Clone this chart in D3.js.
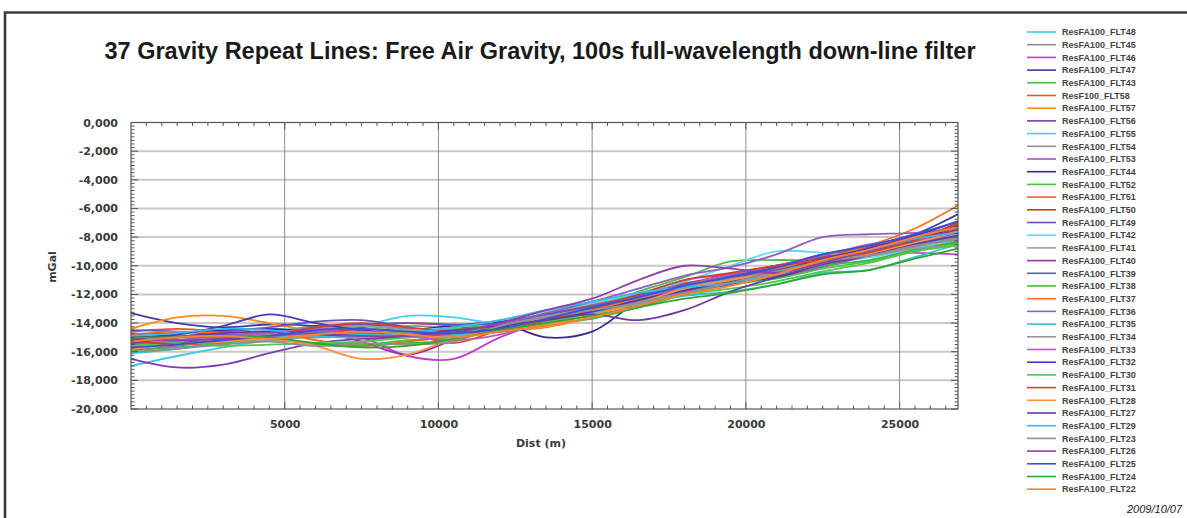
<!DOCTYPE html>
<html>
<head>
<meta charset="utf-8">
<script src="https://cdn.jsdelivr.net/npm/d3@7"></script>
<style>
  body { margin: 0; background: #fff; }
  svg { display: block; }
</style>
</head>
<body>
<div class="content"></div>
<script>
// distance along line (m) at which each repeat line was read
var distances = [0, 1500, 3000, 4500, 6000, 7500, 9000, 10500, 12000, 13500, 15000, 16500, 18000, 19500, 21000, 22500, 24000, 25500, 26900];

var lineNames = ['ResFA100_FLT48', 'ResFA100_FLT45', 'ResFA100_FLT46', 'ResFA100_FLT47', 'ResFA100_FLT43',
    'ResF100_FLT58', 'ResFA100_FLT57', 'ResFA100_FLT56', 'ResFA100_FLT55', 'ResFA100_FLT54', 'ResFA100_FLT53',
    'ResFA100_FLT44', 'ResFA100_FLT52', 'ResFA100_FLT51', 'ResFA100_FLT50', 'ResFA100_FLT49', 'ResFA100_FLT42',
    'ResFA100_FLT41', 'ResFA100_FLT40', 'ResFA100_FLT39', 'ResFA100_FLT38', 'ResFA100_FLT37', 'ResFA100_FLT36',
    'ResFA100_FLT35', 'ResFA100_FLT34', 'ResFA100_FLT33', 'ResFA100_FLT32', 'ResFA100_FLT30', 'ResFA100_FLT31',
    'ResFA100_FLT28', 'ResFA100_FLT27', 'ResFA100_FLT29', 'ResFA100_FLT23', 'ResFA100_FLT26', 'ResFA100_FLT25',
    'ResFA100_FLT24', 'ResFA100_FLT22'];

var lineColors = ['#3cc8e6', '#8c8c8c', '#c040c8', '#3c3ca8', '#50c050', '#f05020', '#ff8c1a', '#7a3fb0',
    '#40d0f0', '#909090', '#b050d0', '#3a2a90', '#48c048', '#f06030', '#c8401c', '#7050c0', '#60d8f8',
    '#a0a0a0', '#a030a0', '#5a5ac8', '#40b840', '#ff7020', '#9060c0', '#30c0d0', '#989898', '#b060c0',
    '#4040b8', '#50c850', '#d04030', '#ff9040', '#6a3aa0', '#38b8e8', '#909090', '#9040a8', '#4050d0',
    '#30a830', '#ff8030'];

// free air gravity residual (mGal) for each line, at the distances above
var flt48 = [-17.0, -16.3, -15.7, -15.2, -14.9, -14.4, -14.6, -14.9, -14.6, -13.9, -13.2, -12.5, -11.7, -11.3, -10.4, -9.9, -9.4, -8.6, -8.1];
var flt45 = [-15.6, -15.3, -15.0, -14.7, -14.2, -14.1, -14.4, -14.6, -14.3, -13.5, -12.8, -12.1, -11.4, -11.0, -10.6, -9.8, -9.1, -8.6, -8.0];
var flt46 = [-15.0, -15.4, -15.2, -14.9, -14.7, -15.0, -16.3, -16.5, -15.0, -13.9, -13.3, -12.6, -11.9, -11.2, -10.8, -10.1, -9.3, -8.9, -8.4];
var flt47 = [-13.3, -14.0, -14.3, -14.1, -14.2, -14.4, -14.5, -14.3, -13.9, -13.4, -12.9, -12.2, -11.3, -10.7, -10.0, -9.3, -8.6, -7.8, -6.4];
var flt43 = [-15.8, -15.5, -15.4, -15.2, -15.4, -15.5, -15.2, -15.0, -14.4, -13.8, -13.4, -12.9, -12.0, -11.3, -10.9, -10.2, -9.7, -9.0, -8.4];
var flt58 = [-14.6, -14.4, -14.6, -14.9, -15.5, -15.3, -14.8, -15.4, -14.5, -13.9, -12.9, -12.0, -11.2, -10.9, -10.2, -9.4, -8.9, -8.1, -7.1];
var flt57 = [-14.4, -13.6, -13.5, -14.0, -14.6, -14.9, -15.0, -14.9, -14.6, -14.3, -13.6, -12.7, -11.8, -11.1, -10.5, -9.7, -9.0, -8.2, -7.4];
var flt56 = [-16.5, -17.1, -16.9, -16.1, -15.4, -15.1, -15.0, -14.8, -14.5, -13.8, -13.3, -12.5, -11.6, -11.0, -10.4, -9.6, -9.0, -8.2, -7.6];
var flt55 = [-15.3, -15.0, -14.6, -14.4, -14.5, -14.2, -13.5, -13.6, -14.0, -13.3, -12.6, -12.0, -11.6, -11.1, -10.3, -9.5, -8.8, -8.3, -7.8];
var flt54 = [-15.0, -14.9, -14.8, -14.6, -14.3, -14.4, -14.2, -14.3, -14.1, -13.3, -12.7, -12.3, -11.7, -11.2, -10.5, -9.9, -9.2, -8.7, -8.2];
var flt53 = [-15.9, -15.6, -15.1, -14.8, -14.6, -14.5, -14.7, -14.6, -14.0, -13.4, -12.8, -12.1, -11.0, -10.6, -10.1, -9.4, -9.0, -9.1, -9.2];
var flt44 = [-14.8, -14.7, -14.5, -14.4, -14.6, -14.7, -14.5, -14.2, -14.0, -15.0, -14.6, -12.5, -11.5, -11.1, -10.8, -9.9, -9.1, -8.3, -7.2];
var flt52 = [-15.5, -15.3, -15.1, -15.0, -15.0, -14.7, -14.6, -14.4, -14.1, -13.6, -12.9, -11.8, -10.8, -9.7, -9.6, -9.6, -9.3, -8.9, -8.5];
var flt51 = [-15.4, -15.2, -14.8, -14.6, -15.2, -15.6, -15.3, -14.9, -14.4, -13.6, -12.7, -12.2, -11.5, -10.9, -10.2, -9.5, -8.9, -8.2, -7.6];
var flt50 = [-15.1, -14.9, -14.9, -15.0, -14.9, -14.3, -14.0, -14.2, -14.6, -14.0, -13.3, -12.4, -11.3, -10.6, -10.0, -9.4, -8.7, -8.0, -7.3];
var flt49 = [-15.2, -15.0, -14.6, -14.3, -13.9, -13.8, -14.3, -14.7, -14.3, -13.7, -13.0, -12.4, -11.8, -11.3, -10.7, -10.0, -9.3, -8.5, -7.9];
var flt42 = [-15.7, -15.4, -15.3, -15.0, -14.8, -14.6, -14.5, -14.3, -13.8, -13.2, -12.6, -11.9, -11.1, -10.0, -9.0, -9.1, -9.4, -8.8, -8.2];
var flt41 = [-14.9, -15.1, -15.3, -15.2, -14.9, -14.6, -14.8, -14.9, -14.2, -13.5, -13.1, -12.4, -11.5, -10.8, -10.3, -9.8, -9.0, -8.4, -7.8];
var flt40 = [-15.3, -15.4, -15.0, -14.7, -14.6, -15.3, -16.2, -15.2, -14.4, -13.7, -12.9, -12.3, -11.6, -10.9, -10.1, -9.2, -8.7, -8.1, -7.5];
var flt39 = [-14.5, -14.6, -14.8, -14.9, -14.3, -14.1, -14.0, -14.1, -14.0, -13.4, -12.8, -12.1, -11.3, -10.7, -10.3, -9.6, -9.0, -8.3, -7.7];
var flt38 = [-15.9, -15.7, -15.4, -15.0, -15.5, -15.6, -15.4, -15.2, -14.3, -14.0, -13.7, -12.9, -12.0, -11.2, -10.6, -10.0, -9.6, -8.9, -8.3];
var flt37 = [-14.8, -14.6, -14.7, -14.8, -15.0, -14.9, -14.7, -14.5, -14.3, -13.7, -13.1, -12.3, -11.6, -11.0, -10.4, -9.5, -8.6, -7.4, -5.8];
var flt36 = [-15.5, -15.2, -14.9, -14.6, -14.6, -14.7, -14.8, -14.6, -14.1, -13.3, -12.5, -11.6, -10.7, -10.1, -9.2, -8.0, -7.8, -7.7, -7.4];
var flt35 = [-16.1, -15.8, -15.3, -15.0, -14.7, -14.8, -14.9, -14.8, -14.5, -13.9, -13.3, -12.7, -12.1, -11.8, -11.3, -10.5, -10.3, -9.4, -8.5];
var flt34 = [-15.3, -15.2, -15.1, -14.8, -14.4, -14.2, -14.5, -14.6, -14.4, -13.6, -12.9, -12.2, -11.5, -10.9, -10.5, -9.9, -9.3, -8.8, -8.6];
var flt33 = [-14.7, -14.9, -15.0, -14.7, -14.4, -14.5, -14.9, -15.2, -14.8, -13.9, -13.2, -12.5, -11.4, -10.6, -10.0, -9.3, -8.5, -8.2, -8.0];
var flt32 = [-15.0, -14.8, -14.2, -13.4, -14.0, -14.5, -14.8, -14.7, -14.3, -13.8, -13.2, -12.4, -11.7, -11.1, -10.4, -9.5, -8.8, -7.9, -6.9];
var flt30 = [-15.6, -15.4, -15.6, -15.5, -15.4, -15.3, -15.0, -14.7, -14.2, -13.9, -13.4, -12.6, -12.0, -11.6, -11.1, -10.4, -9.8, -9.0, -8.6];
var flt31 = [-15.2, -15.5, -15.3, -14.9, -14.3, -14.0, -14.3, -14.6, -14.6, -13.8, -13.0, -12.0, -11.0, -10.5, -10.0, -9.6, -9.1, -8.2, -7.0];
var flt28 = [-15.8, -15.5, -15.3, -15.1, -15.6, -16.5, -16.2, -15.1, -14.5, -14.1, -13.4, -12.6, -11.6, -11.0, -10.5, -9.8, -9.2, -8.4, -7.6];
var flt27 = [-15.4, -15.0, -14.7, -14.6, -14.8, -15.0, -14.9, -14.5, -14.2, -13.8, -13.4, -13.8, -13.1, -11.8, -10.8, -9.9, -9.3, -8.5, -7.9];
var flt29 = [-14.9, -14.7, -14.4, -14.5, -14.9, -15.0, -14.7, -14.3, -13.8, -13.1, -12.5, -11.9, -11.5, -11.2, -10.6, -9.8, -8.9, -8.1, -7.7];
var flt23 = [-16.0, -15.8, -15.5, -15.3, -15.6, -15.4, -15.5, -15.3, -14.2, -13.6, -13.1, -12.6, -11.9, -11.2, -10.4, -9.7, -9.3, -8.6, -8.2];
var flt26 = [-15.1, -15.2, -15.1, -14.9, -14.7, -14.9, -14.9, -14.7, -14.0, -13.1, -12.3, -11.0, -10.0, -10.2, -10.5, -9.8, -8.9, -8.0, -7.3];
var flt25 = [-15.7, -15.5, -15.2, -14.9, -14.5, -14.4, -14.6, -14.7, -14.4, -13.7, -12.9, -12.2, -11.4, -10.8, -10.1, -9.2, -8.6, -7.8, -6.9];
var flt24 = [-15.0, -15.0, -14.9, -15.0, -15.4, -15.7, -15.6, -15.1, -14.5, -14.0, -13.5, -12.9, -12.3, -11.9, -11.3, -10.6, -10.3, -9.5, -8.8];
var flt22 = [-15.3, -15.0, -14.9, -15.1, -14.8, -14.6, -14.8, -15.0, -14.6, -14.2, -13.6, -12.8, -12.0, -11.4, -10.6, -9.6, -8.9, -8.0, -7.3];

var lineValues = [flt48, flt45, flt46, flt47, flt43, flt58, flt57, flt56, flt55, flt54, flt53, flt44, flt52,
    flt51, flt50, flt49, flt42, flt41, flt40, flt39, flt38, flt37, flt36, flt35, flt34, flt33, flt32, flt30,
    flt31, flt28, flt27, flt29, flt23, flt26, flt25, flt24, flt22];

var xTicks = [5000, 10000, 15000, 20000, 25000];
var yTicks = [0, -2, -4, -6, -8, -10, -12, -14, -16, -18, -20];

var chart = {
    width: 1187,
    height: 518,
    left: 131,
    right: 958,
    top: 122.5,
    bottom: 409,
    font: '"DejaVu Sans", sans-serif',
    ink: '#3a3a3a'
};

// the picture uses a comma as decimal mark: -2,000 means -2.000 mGal
var euro = d3.formatLocale({decimal: ',', thousands: '.', grouping: [3], currency: ['', ''], minus: '-'});
var yFormat = euro.format('.3f');

window.onload = function() {
    var svg = d3.select('.content').append('svg')
        .attr('width', chart.width)
        .attr('height', chart.height)
        .style('background', '#fff');

    // outer frame, only top and left edge are visible
    svg.append('path')
        .attr('d', 'M5,518 V12.5 H1187')
        .style('fill', 'none')
        .style('stroke', '#3a3a3a')
        .style('stroke-width', 2.6);

    svg.append('text')
        .attr('x', 540)
        .attr('y', 59)
        .attr('text-anchor', 'middle')
        .style('font-family', '"Liberation Sans", Arial, sans-serif')
        .style('font-weight', 'bold')
        .style('font-size', '23.5px')
        .style('fill', '#1a1a1a')
        .text('37 Gravity Repeat Lines: Free Air Gravity, 100s full-wavelength down-line filter');

    var x = d3.scaleLinear().domain([0, 26900]).range([chart.left, chart.right]);
    var y = d3.scaleLinear().domain([-20, 0]).range([chart.bottom, chart.top]);

    var g = svg.append('g');

    // horizontal grid
    g.selectAll('.hgrid')
        .data(yTicks.slice(1, -1))
        .enter().append('line')
        .attr('x1', chart.left).attr('x2', chart.right)
        .attr('y1', function(d) { return y(d); })
        .attr('y2', function(d) { return y(d); })
        .style('stroke', '#cdc6c4')
        .style('stroke-width', 2);

    // vertical grid
    g.selectAll('.vgrid')
        .data(xTicks)
        .enter().append('line')
        .attr('x1', function(d) { return x(d); })
        .attr('x2', function(d) { return x(d); })
        .attr('y1', chart.top).attr('y2', chart.bottom)
        .style('stroke', '#8c8c8c')
        .style('stroke-width', 1);

    var line = d3.line()
        .x(function(d, i) { return x(distances[i]); })
        .y(function(d) { return y(d); })
        .curve(d3.curveCatmullRom.alpha(0.5));

    g.append('g').selectAll('path')
        .data(lineValues)
        .enter().append('path')
        .attr('d', function(d) { return line(d); })
        .style('fill', 'none')
        .style('stroke', function(d, i) { return lineColors[i]; })
        .style('stroke-width', 1.8);

    // minor ticks, pointing into the plot on all four sides
    var xMinor = d3.range(500, 26900, 500);
    var yMinor = d3.range(-20, 0.001, 0.25);
    var tickColor = '#555';

    var axes = svg.append('g').style('stroke', tickColor).style('stroke-width', 1);
    axes.selectAll('.xm').data(xMinor).enter().append('line')
        .attr('x1', function(d) { return x(d); }).attr('x2', function(d) { return x(d); })
        .attr('y1', chart.bottom).attr('y2', function(d) { return chart.bottom - (d % 5000 === 0 ? 7 : 3.5); });
    axes.selectAll('.xt').data(xMinor).enter().append('line')
        .attr('x1', function(d) { return x(d); }).attr('x2', function(d) { return x(d); })
        .attr('y1', chart.top).attr('y2', function(d) { return chart.top + (d % 5000 === 0 ? 7 : 3.5); });
    axes.selectAll('.yl').data(yMinor).enter().append('line')
        .attr('y1', function(d) { return y(d); }).attr('y2', function(d) { return y(d); })
        .attr('x1', chart.left).attr('x2', function(d) { return chart.left + (Math.abs(d % 2) < 0.001 ? 7 : 3.5); });
    axes.selectAll('.yr').data(yMinor).enter().append('line')
        .attr('y1', function(d) { return y(d); }).attr('y2', function(d) { return y(d); })
        .attr('x1', chart.right).attr('x2', function(d) { return chart.right - (Math.abs(d % 2) < 0.001 ? 7 : 3.5); });

    svg.append('rect')
        .attr('x', chart.left).attr('y', chart.top)
        .attr('width', chart.right - chart.left)
        .attr('height', chart.bottom - chart.top)
        .style('fill', 'none')
        .style('stroke', '#555')
        .style('stroke-width', 1.2);

    // tick labels through the library axes (tick lines hidden, drawn above)
    var xAxis = svg.append('g')
        .attr('transform', 'translate(0,' + chart.bottom + ')')
        .call(d3.axisBottom(x).tickValues(xTicks).tickSize(0).tickPadding(11).tickFormat(d3.format('d')));
    var yAxis = svg.append('g')
        .attr('transform', 'translate(' + chart.left + ',0)')
        .call(d3.axisLeft(y).tickValues(yTicks).tickSize(0).tickPadding(13).tickFormat(yFormat));
    [xAxis, yAxis].forEach(function(a) {
        a.select('.domain').remove();
        a.selectAll('text')
            .style('font-family', chart.font)
            .style('font-weight', 'bold')
            .style('font-size', '11px')
            .style('fill', chart.ink);
    });

    svg.append('text')
        .attr('x', 541)
        .attr('y', 447)
        .attr('text-anchor', 'middle')
        .style('font-family', chart.font)
        .style('font-weight', 'bold')
        .style('font-size', '11px')
        .style('fill', chart.ink)
        .text('Dist (m)');

    svg.append('text')
        .attr('transform', 'translate(56,267) rotate(-90)')
        .attr('text-anchor', 'middle')
        .style('font-family', chart.font)
        .style('font-weight', 'bold')
        .style('font-size', '11px')
        .style('fill', chart.ink)
        .text('mGal');

    // legend
    var legend = svg.append('g').selectAll('g')
        .data(lineNames)
        .enter().append('g')
        .attr('transform', function(d, i) { return 'translate(1027,' + (32 + i * 12.7) + ')'; });
    legend.append('line')
        .attr('x1', 0).attr('x2', 29)
        .style('stroke', function(d, i) { return lineColors[i]; })
        .style('stroke-width', 1.6);
    legend.append('text')
        .attr('x', 35)
        .attr('y', 3.2)
        .style('font-family', '"Liberation Sans", Arial, sans-serif')
        .style('font-weight', 'bold')
        .style('font-size', '9px')
        .style('fill', '#444')
        .text(function(d) { return d; });

    svg.append('text')
        .attr('x', 1127)
        .attr('y', 513)
        .style('font-family', '"Liberation Sans", Arial, sans-serif')
        .style('font-style', 'italic')
        .style('font-size', '11px')
        .style('fill', '#222')
        .text('2009/10/07');
};
</script>
</body>
</html>
